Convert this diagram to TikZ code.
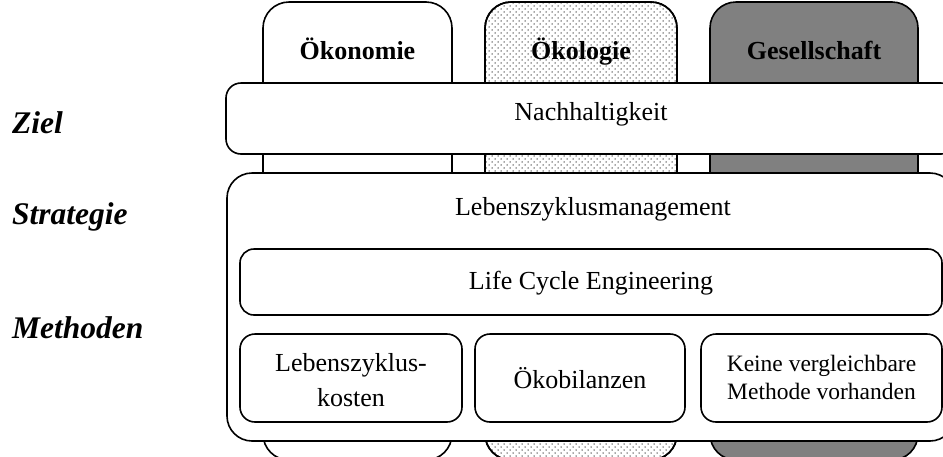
\documentclass[tikz,border=0pt]{standalone}
\usepackage{fontspec}
\setmainfont{Liberation Serif}
\usetikzlibrary{patterns.meta}

% staggered dot raster for the ecology pillar
\tikzdeclarepattern{
  name=ecodots,
  type=uncolored,
  bottom left={(-1pt,-1pt)},
  top right={(5pt,5pt)},
  tile size={(6pt,6pt)},
  code={
    \fill (0pt,0pt) circle (0.75pt);
    \fill (3pt,3pt) circle (0.75pt);
  }
}

\begin{document}
\begin{tikzpicture}[
  x=1pt, y=-1pt,
  pillar/.style={draw, line width=1.6pt, rounded corners=26pt,
    inner sep=0pt, outer sep=0pt, minimum height=458pt},
  frame/.style={draw, fill=white, line width=1.6pt, inner sep=0pt, outer sep=0pt},
  tablabel/.style={font=\fontsize{26}{30}\selectfont\bfseries, inner sep=0pt},
  boxtext/.style={font=\fontsize{26}{35}\selectfont, inner sep=0pt, align=center},
  smalltext/.style={font=\fontsize{23.5}{28}\selectfont, inner sep=0pt, align=center},
  rowlabel/.style={font=\fontsize{31.5}{36}\selectfont\bfseries\itshape, inner sep=0pt}
]
\useasboundingbox (0,0) rectangle (943,456);
\clip (0,0) rectangle (943,456);

% the three pillars
\node[pillar, fill=white, minimum width=189pt] (econ) at (357.5,231) {};
\node[pillar, fill=white, minimum width=192pt] (ecol) at (581,231) {};
\fill[pattern=ecodots, pattern color=black!70, rounded corners=26pt]
  (ecol.north west) rectangle (ecol.south east);
\draw[line width=1.6pt, rounded corners=26pt]
  (ecol.north west) rectangle (ecol.south east);
\node[pillar, fill=black!50, minimum width=208pt] (soc) at (814,231) {};

\node[tablabel, anchor=base] (econlabel) at (357.5,59) {Ökonomie};
\node[tablabel, anchor=base] (ecollabel) at (581,59) {Ökologie};
\node[tablabel, anchor=base] (soclabel) at (814,59) {Gesellschaft};

% goal
\node[frame, rounded corners=15pt, minimum width=730pt, minimum height=71pt]
  (goal) at (591,118.5) {};
\node[boxtext, anchor=base] (goaltext) at (591,120) {Nachhaltigkeit};

% strategy frame
\node[frame, rounded corners=25pt, minimum width=728pt, minimum height=268pt]
  (strategy) at (591,307) {};
\node[boxtext, anchor=base] (strategytext) at (593,215) {Lebenszyklusmanagement};

% life cycle engineering
\node[frame, rounded corners=14pt, minimum width=702pt, minimum height=66pt]
  (lce) at (591,282) {};
\node[boxtext, anchor=base] (lcetext) at (591,289) {Life Cycle Engineering};

% methods
\node[frame, rounded corners=15pt, minimum width=222pt, minimum height=88pt]
  (lcc) at (351,378) {};
\node[boxtext] (lcctext) at (351,380.5) {Lebenszyklus-\\kosten};

\node[frame, rounded corners=15pt, minimum width=210pt, minimum height=88pt]
  (lca) at (580,378) {};
\node[boxtext, anchor=base] (lcatext) at (580,388) {Ökobilanzen};

\node[frame, rounded corners=15pt, minimum width=241pt, minimum height=88pt]
  (none) at (821.5,378) {};
\node[smalltext] (nonetext) at (821.5,377) {Keine vergleichbare\\Methode vorhanden};

% level labels
\node[rowlabel, anchor=base west] (zielrow) at (12,133) {Ziel};
\node[rowlabel, anchor=base west] (stratrow) at (12,224) {Strategie};
\node[rowlabel, anchor=base west] (methrow) at (12,338) {Methoden};
\end{tikzpicture}
\end{document}
